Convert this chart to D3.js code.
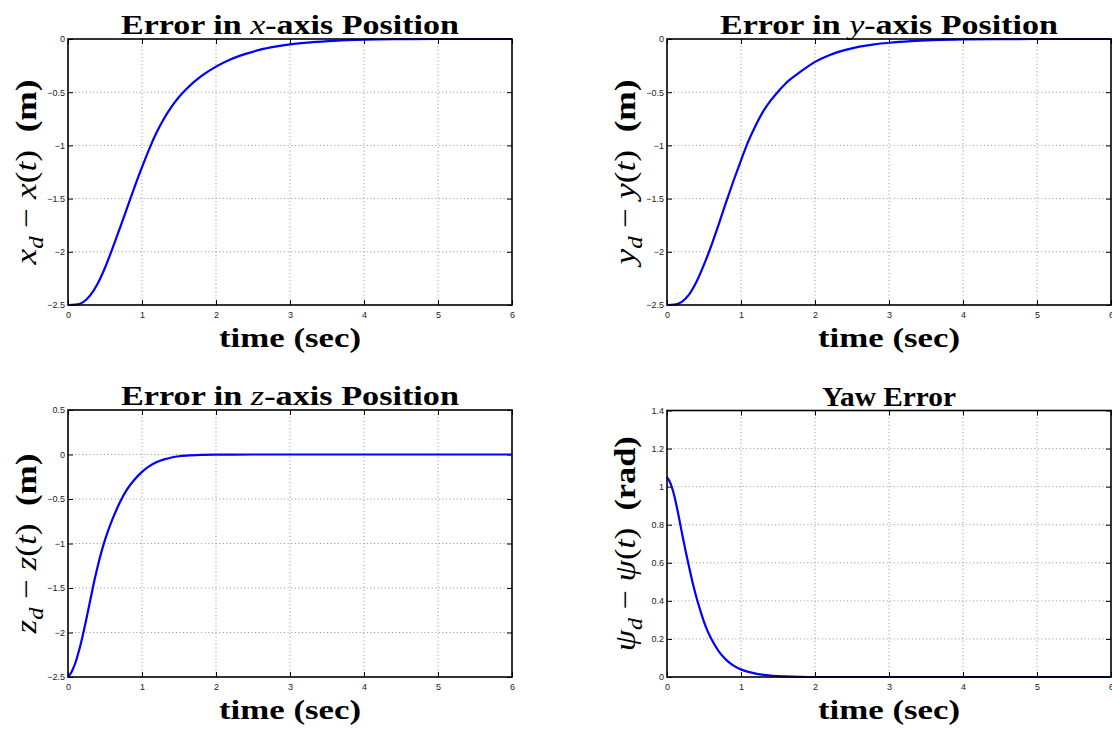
<!DOCTYPE html>
<html><head><meta charset="utf-8">
<script src="https://cdn.jsdelivr.net/npm/d3@7"></script>
<style>
html,body{margin:0;padding:0;background:#fff;}
svg{display:block;}
.tick text{font-family:"Liberation Sans",Arial,sans-serif;font-size:9px;fill:#222;}
</style></head>
<body>
<script>
// ---- data ----
const tX   = [0,0.1,0.2,0.3,0.4,0.5,0.6,0.7,0.8,0.9,1.0,1.1,1.2,1.3,1.4,1.5,1.6,1.8,2.0,2.2,2.4,2.6,2.8,3.0,3.3,3.6,4.0,4.5,5.0,5.5,6.0];
const errX = [-2.5,-2.497,-2.475,-2.41,-2.30,-2.15,-1.97,-1.78,-1.585,-1.39,-1.205,-1.03,-0.875,-0.745,-0.635,-0.545,-0.47,-0.35,-0.26,-0.19,-0.14,-0.10,-0.072,-0.05,-0.03,-0.017,-0.007,-0.002,0,0,0];
const tY   = [0,0.1,0.2,0.3,0.4,0.5,0.6,0.7,0.8,0.9,1.0,1.1,1.2,1.3,1.4,1.5,1.6,1.8,2.0,2.2,2.4,2.6,2.8,3.0,3.3,3.6,4.0,4.5,5.0,5.5,6.0];
const errY = [-2.5,-2.497,-2.47,-2.40,-2.28,-2.12,-1.94,-1.74,-1.53,-1.33,-1.14,-0.96,-0.81,-0.68,-0.58,-0.495,-0.42,-0.31,-0.215,-0.15,-0.105,-0.072,-0.05,-0.035,-0.02,-0.011,-0.004,-0.001,0,0,0];
const tZ   = [0,0.05,0.1,0.15,0.2,0.25,0.3,0.35,0.4,0.45,0.5,0.6,0.7,0.8,0.9,1.0,1.1,1.2,1.3,1.4,1.5,1.6,1.8,2.0,2.5,3.0,4.0,5.0,6.0];
const errZ = [-2.5,-2.44,-2.34,-2.20,-2.03,-1.84,-1.64,-1.44,-1.26,-1.10,-0.96,-0.73,-0.54,-0.39,-0.28,-0.195,-0.13,-0.085,-0.055,-0.034,-0.02,-0.012,-0.004,-0.001,0,0,0,0,0];
const tPsi   = [0,0.05,0.1,0.15,0.2,0.25,0.3,0.35,0.4,0.45,0.5,0.55,0.6,0.7,0.8,0.9,1.0,1.1,1.2,1.4,1.6,1.8,2.0,3.0,4.0,5.0,6.0];
const errPsi = [1.05,1.015,0.95,0.86,0.76,0.665,0.575,0.49,0.415,0.35,0.29,0.24,0.20,0.135,0.09,0.06,0.04,0.027,0.018,0.007,0.003,0.001,0,0,0,0,0];

const xTicks = [0,1,2,3,4,5,6];
const yTicksPos = [0,-0.5,-1,-1.5,-2,-2.5];
const yTicksZ = [0.5,0,-0.5,-1,-1.5,-2,-2.5];
const yTicksPsi = [0,0.2,0.4,0.6,0.8,1,1.2,1.4];

const titles = [
  [{t:"Error in "},{t:"x",i:1},{t:"-axis Position"}],
  [{t:"Error in "},{t:"y",i:1},{t:"-axis Position"}],
  [{t:"Error in "},{t:"z",i:1},{t:"-axis Position"}],
  [{t:"Yaw Error"}]
];
const ylabels = [
  [{t:"x",m:1},{t:"d",m:1,sub:1},{t:" − ",n:1},{t:"x",m:1},{t:"(",n:1},{t:"t",m:1},{t:")",n:1},{t:"\u00a0\u00a0(m)",b:1}],
  [{t:"y",m:1},{t:"d",m:1,sub:1},{t:" − ",n:1},{t:"y",m:1},{t:"(",n:1},{t:"t",m:1},{t:")",n:1},{t:"\u00a0\u00a0(m)",b:1}],
  [{t:"z",m:1},{t:"d",m:1,sub:1},{t:" − ",n:1},{t:"z",m:1},{t:"(",n:1},{t:"t",m:1},{t:")",n:1},{t:"\u00a0\u00a0(m)",b:1}],
  [{t:"ψ",m:1},{t:"d",m:1,sub:1},{t:" − ",n:1},{t:"ψ",m:1},{t:"(",n:1},{t:"t",m:1},{t:")",n:1},{t:"\u00a0\u00a0(rad)",b:1}]
];
const xlabel = "time (sec)";

const panels = [
  {box:[68,512,39,305],  t:tX, v:errX, yd:[-2.5,0], yt:yTicksPos, title:titles[0], tLen:338, yl:ylabels[0], ylLen:185},
  {box:[667,1111,39,305],t:tY, v:errY, yd:[-2.5,0], yt:yTicksPos, title:titles[1], tLen:338, yl:ylabels[1], ylLen:185},
  {box:[68,512,410,677], t:tZ, v:errZ, yd:[-2.5,0.5], yt:yTicksZ, title:titles[2], tLen:338, yl:ylabels[2], ylLen:180},
  {box:[667,1111,410.5,677],t:tPsi, v:errPsi, yd:[0,1.4], yt:yTicksPsi, title:titles[3], tLen:134, yl:ylabels[3], ylLen:215}
];

const svg = d3.select("body").append("svg").attr("width",1112).attr("height",730);
const serif = "'Liberation Serif','Times New Roman',serif";
const fmt = d3.format("~g");

panels.forEach((p,k)=>{
  const [L,R,T,B] = p.box;
  const x = d3.scaleLinear().domain([0,6]).range([L,R]);
  const y = d3.scaleLinear().domain(p.yd).range([B,T]);
  const g = svg.append("g");

  // grid
  g.append("g").selectAll("line").data(xTicks.filter(d=>d>0&&d<6)).join("line")
    .attr("x1",d=>x(d)).attr("x2",d=>x(d)).attr("y1",T).attr("y2",B)
    .attr("stroke","#888").attr("stroke-width",0.9).attr("stroke-dasharray","1,2.6");
  g.append("g").selectAll("line").data(p.yt.filter(d=>d>p.yd[0]&&d<p.yd[1])).join("line")
    .attr("x1",L).attr("x2",R).attr("y1",d=>y(d)).attr("y2",d=>y(d))
    .attr("stroke","#888").attr("stroke-width",0.9).attr("stroke-dasharray","1,2.6");

  // axes
  const ax = g.append("g").attr("transform",`translate(0,${B})`)
    .call(d3.axisBottom(x).tickValues(xTicks).tickSize(-5).tickPadding(7).tickFormat(fmt));
  const ay = g.append("g").attr("transform",`translate(${L},0)`)
    .call(d3.axisLeft(y).tickValues(p.yt).tickSize(-5).tickPadding(3).tickFormat(fmt));
  const at = g.append("g").attr("transform",`translate(0,${T})`)
    .call(d3.axisTop(x).tickValues(xTicks).tickSize(-5).tickFormat(""));
  const ar = g.append("g").attr("transform",`translate(${R},0)`)
    .call(d3.axisRight(y).tickValues(p.yt).tickSize(-5).tickFormat(""));
  [ax,ay,at,ar].forEach(a=>{a.select(".domain").remove(); a.selectAll(".tick line").attr("stroke","#000").attr("stroke-width",1);});

  // line
  const line = d3.line().x((d,i)=>x(p.t[i])).y(d=>y(d)).curve(d3.curveMonotoneX);
  g.append("path").datum(p.v).attr("d",line).attr("fill","none")
    .attr("stroke","#0000ff").attr("stroke-width",2.2);

  // frame
  g.append("rect").attr("x",L).attr("y",T).attr("width",R-L).attr("height",B-T)
    .attr("fill","none").attr("stroke","#000").attr("stroke-width",1.6);

  // title
  const tt = g.append("text").attr("x",(L+R)/2).attr("y",T-5).attr("text-anchor","middle")
    .attr("font-family",serif).attr("font-size",27).attr("font-weight","bold").attr("fill","#000")
    .attr("textLength",p.tLen).attr("lengthAdjust","spacingAndGlyphs");
  p.title.forEach(s=>{
    const ts = tt.append("tspan").text(s.t);
    if(s.i) ts.attr("font-style","italic").attr("font-weight","normal");
  });

  // xlabel
  g.append("text").attr("x",(L+R)/2).attr("y",B+42).attr("text-anchor","middle")
    .attr("font-family",serif).attr("font-size",27).attr("font-weight","bold")
    .attr("textLength",142).attr("lengthAdjust","spacingAndGlyphs").text(xlabel);

  // ylabel
  const cy = (T+B)/2;
  const yl = g.append("text").attr("transform",`translate(${L-32},${cy}) rotate(-90)`)
    .attr("text-anchor","middle").attr("font-family",serif).attr("font-size",30)
    .attr("textLength",p.ylLen).attr("lengthAdjust","spacingAndGlyphs");
  p.yl.forEach((s,i)=>{
    const ts = yl.append("tspan").text(s.t);
    if(s.m) ts.attr("font-style","italic");
    if(s.b) ts.attr("font-weight","bold");
    if(s.sub) ts.attr("font-size",21).attr("dy",7);
    else if(i>0 && p.yl[i-1].sub) ts.attr("dy",-7);
  });
});
</script>
</body></html>
